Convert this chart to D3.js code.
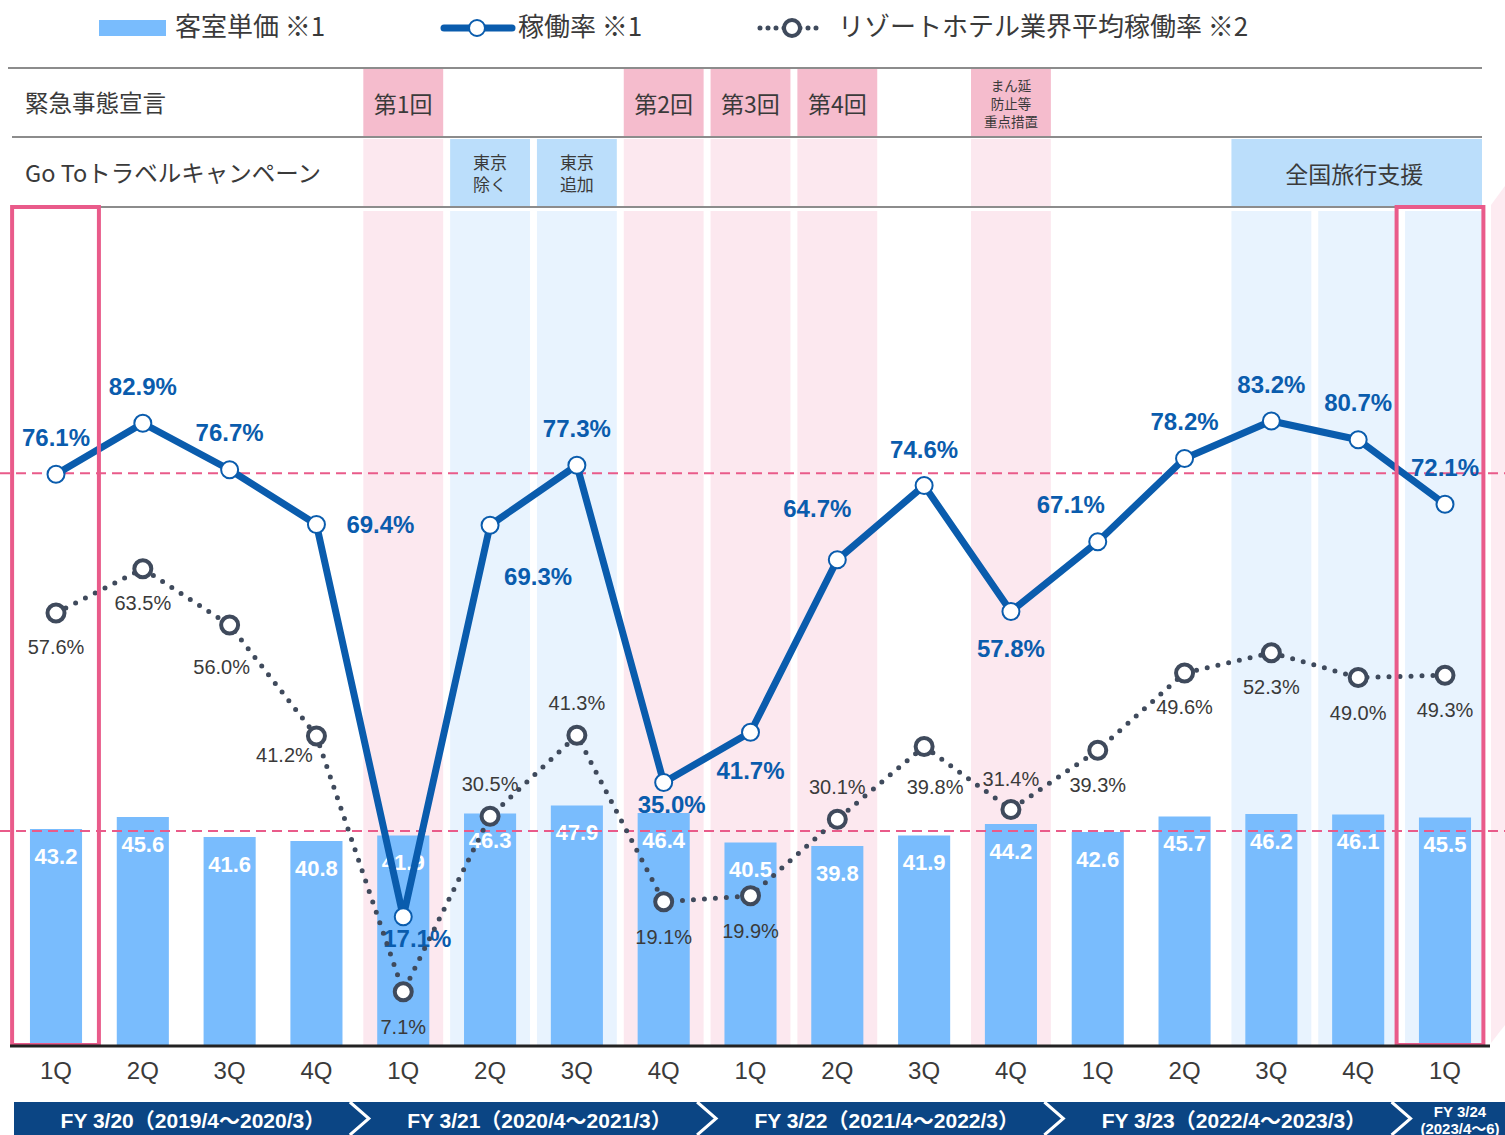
<!DOCTYPE html>
<html>
<head>
<meta charset="utf-8">
<script src="https://cdn.jsdelivr.net/npm/d3@7"></script>
<style>
    body { margin: 0; background: #ffffff; }
    svg { display: block; font-family: "Liberation Sans", Arial, "Noto Sans CJK JP", sans-serif; }
    .jp { font-family: "Noto Sans CJK JP", sans-serif; }
</style>
</head>
<body>
<svg id="sketchbook"></svg>
<script>
let quarters  = ['1Q','2Q','3Q','4Q','1Q','2Q','3Q','4Q','1Q','2Q','3Q','4Q','1Q','2Q','3Q','4Q','1Q'];
let unitPrice = [43.2, 45.6, 41.6, 40.8, 41.9, 46.3, 47.9, 46.4, 40.5, 39.8, 41.9, 44.2, 42.6, 45.7, 46.2, 46.1, 45.5];
let occupancy = [76.1, 82.9, 76.7, 69.4, 17.1, 69.3, 77.3, 35.0, 41.7, 64.7, 74.6, 57.8, 67.1, 78.2, 83.2, 80.7, 72.1];
let industry  = [57.6, 63.5, 56.0, 41.2, 7.1, 30.5, 41.3, 19.1, 19.9, 30.1, 39.8, 31.4, 39.3, 49.6, 52.3, 49.0, 49.3];

let fiscalYears = [
    { from: 0,  to: 4,  lines: ['FY 3/20（2019/4～2020/3）'] },
    { from: 4,  to: 8,  lines: ['FY 3/21（2020/4～2021/3）'] },
    { from: 8,  to: 12, lines: ['FY 3/22（2021/4～2022/3）'] },
    { from: 12, to: 16, lines: ['FY 3/23（2022/4～2023/3）'] },
    { from: 16, to: 17, lines: ['FY 3/24', '(2023/4～6)'] },
];

let emergency = [
    { from: 4,  to: 5,  lines: ['第1回'] },
    { from: 7,  to: 8,  lines: ['第2回'] },
    { from: 8,  to: 9,  lines: ['第3回'] },
    { from: 9,  to: 10, lines: ['第4回'] },
    { from: 11, to: 12, lines: ['まん延', '防止等', '重点措置'] },
];
let goTo = [
    { from: 5,  to: 6,  lines: ['東京', '除く'] },
    { from: 6,  to: 7,  lines: ['東京', '追加'] },
    { from: 14, to: 17, lines: ['全国旅行支援'] },
];
let pinkColumns = [4, 7, 8, 9, 11];
let blueColumns = [5, 6, 14, 15, 16];
let highlighted = [0, 16];

// label placement (dx, dy from the point)
let occLabelPos = [[0,-37],[0,-37],[0,-37],[64,0],[14,22],[48,51],[0,-37],[8,22],[0,38],[-20,-51],
                   [0,-36],[0,37],[-27,-37],[0,-37],[0,-37],[0,-37],[0,-37]];
let indLabelPos = [[0,34],[0,34],[-8,42],[-32,19],[0,35],[0,-32],[0,-32],[0,35],[0,35],[0,-32],
                   [11,40],[0,-31],[0,35],[0,34],[0,34],[0,35],[0,35]];

const W = 1505, H = 1135;
const C = {
    bar: '#79bcfd', line: '#0a5cad', dot: '#3f4a5c', pink: '#e95b8a',
    colPink: '#fce8ef', colBlue: '#e8f3fe', headPink: '#f5bccd', headBlue: '#bbdefb',
    text: '#3a3a3a', banner: '#0b4584', rule: '#8c8c8c'
};

function fmtPct (v) { return v.toFixed(1) + '%'; }

function drawChart () {
    let svg = d3.select('#sketchbook').attr('width', W).attr('height', H);

    let base = 1045, top = 208;
    let x = d3.scaleBand().domain(d3.range(quarters.length)).range([12.6, 1488.4]).paddingInner(0).paddingOuter(0);
    let step = x.step();
    let cx = (i) => { return x(i) + step / 2; };
    let yOcc   = d3.scaleLinear().domain([0, 100]).range([base, base - 750]);
    let yPrice = d3.scaleLinear().domain([0, 100]).range([base, base - 500]);

    let colW = step * 0.92, barW = step * 0.6;

    // column shading in the plot area
    let cols = pinkColumns.map((i) => { return { i: i, c: C.colPink }; })
        .concat(blueColumns.map((i) => { return { i: i, c: C.colBlue }; }));
    svg.append('g').selectAll('rect.col')
        .data(cols)
        .enter()
        .append('rect')
        .attr('class', 'col')
        .attr('x', (d) => { return cx(d.i) - colW / 2; })
        .attr('y', top + 3)
        .attr('width', colW)
        .attr('height', base - top - 3)
        .attr('fill', (d) => { return d.c; });

    // faint arrow edge at the right
    svg.append('polygon')
        .attr('points', '1491,205 1505,186 1505,1025 1491,1043')
        .attr('fill', '#fdebf1');

    // header table
    let head = svg.append('g');
    [[8, 68], [12, 137], [12, 207]].forEach((r) => {
        head.append('line').attr('x1', r[0]).attr('x2', 1482).attr('y1', r[1]).attr('y2', r[1])
            .attr('stroke', C.rule).attr('stroke-width', 2);
    });
    head.selectAll('rect.row2pink')
        .data(pinkColumns)
        .enter()
        .append('rect')
        .attr('x', (d) => { return cx(d) - colW / 2; })
        .attr('y', 139)
        .attr('width', colW)
        .attr('height', 67)
        .attr('fill', C.colPink);

    function cells (data, y0, h, fill) {
        let g = head.append('g');
        g.selectAll('rect')
            .data(data)
            .enter()
            .append('rect')
            .attr('x', (d) => { return x(d.from) + (step - colW) / 2; })
            .attr('y', y0)
            .attr('width', (d) => { return Math.min((d.to - d.from) * step - (step - colW), 1482 - x(d.from) - (step - colW) / 2); })
            .attr('height', h)
            .attr('fill', fill);
        g.selectAll('text')
            .data(data)
            .enter()
            .append('text')
            .attr('class', 'jp')
            .attr('text-anchor', 'middle')
            .attr('fill', C.text)
            .each(function (d) {
                let n = d.lines.length;
                let fs = n === 1 ? 23 : (n === 2 ? 17 : 13.5);
                let lh = n === 2 ? 22 : 18;
                let midX = x(d.from) + (d.to - d.from) * step / 2 - (d.to - d.from > 1 ? 4 : 0);
                let midY = y0 + h / 2;
                d3.select(this).attr('font-size', fs);
                d.lines.forEach((t, k) => {
                    d3.select(this).append('tspan')
                        .attr('x', midX)
                        .attr('y', midY + (k - (n - 1) / 2) * lh)
                        .attr('dominant-baseline', 'central')
                        .text(t);
                });
            });
    }
    cells(emergency, 69, 67, C.headPink);
    cells(goTo, 139, 67, C.headBlue);

    head.append('text').attr('class', 'jp').attr('x', 25).attr('y', 102)
        .attr('dominant-baseline', 'central').attr('font-size', 23.5).attr('fill', C.text)
        .text('緊急事態宣言');
    head.append('text').attr('class', 'jp').attr('x', 25).attr('y', 172)
        .attr('dominant-baseline', 'central').attr('font-size', 23.5).attr('fill', C.text)
        .text('Go Toトラベルキャンペーン');

    // bars
    svg.append('g').selectAll('rect.bar')
        .data(unitPrice)
        .enter()
        .append('rect')
        .attr('class', 'bar')
        .attr('x', (d, i) => { return cx(i) - barW / 2; })
        .attr('y', (d) => { return yPrice(d); })
        .attr('width', barW)
        .attr('height', (d) => { return base - yPrice(d); })
        .attr('fill', C.bar);

    svg.append('g').selectAll('text.barlab')
        .data(unitPrice)
        .enter()
        .append('text')
        .attr('x', (d, i) => { return cx(i); })
        .attr('y', (d) => { return yPrice(d) + 27; })
        .attr('text-anchor', 'middle')
        .attr('dominant-baseline', 'central')
        .attr('font-size', 22)
        .attr('font-weight', 'bold')
        .attr('fill', '#ffffff')
        .text((d) => { return d.toFixed(1); });

    // reference lines
    [yOcc(occupancy[0]) - 1, yPrice(unitPrice[0]) + 2].forEach((yy) => {
        svg.append('line').attr('x1', 0).attr('x2', W).attr('y1', yy).attr('y2', yy)
            .attr('stroke', C.pink).attr('stroke-width', 2).attr('stroke-dasharray', '10,6');
    });

    // line labels
    svg.append('g').selectAll('text.occlab')
        .data(occupancy)
        .enter()
        .append('text')
        .attr('x', (d, i) => { return cx(i) + occLabelPos[i][0]; })
        .attr('y', (d, i) => { return yOcc(d) + occLabelPos[i][1]; })
        .attr('text-anchor', 'middle')
        .attr('dominant-baseline', 'central')
        .attr('font-size', 24)
        .attr('font-weight', 'bold')
        .attr('fill', C.line)
        .text((d) => { return fmtPct(d); });

    svg.append('g').selectAll('text.indlab')
        .data(industry)
        .enter()
        .append('text')
        .attr('x', (d, i) => { return cx(i) + indLabelPos[i][0]; })
        .attr('y', (d, i) => { return yOcc(d) + indLabelPos[i][1]; })
        .attr('text-anchor', 'middle')
        .attr('dominant-baseline', 'central')
        .attr('font-size', 20)
        .attr('fill', C.text)
        .text((d) => { return fmtPct(d); });

    // occupancy line
    let lineOcc = d3.line().x((d, i) => { return cx(i); }).y((d) => { return yOcc(d); });
    svg.append('path')
        .attr('d', lineOcc(occupancy))
        .attr('fill', 'none')
        .attr('stroke', C.line)
        .attr('stroke-width', 7)
        .attr('stroke-linejoin', 'round');
    svg.append('g').selectAll('circle.occ')
        .data(occupancy)
        .enter()
        .append('circle')
        .attr('cx', (d, i) => { return cx(i); })
        .attr('cy', (d) => { return yOcc(d); })
        .attr('r', 8.5)
        .attr('fill', '#ffffff')
        .attr('stroke', C.line)
        .attr('stroke-width', 2);

    // industry dotted line
    svg.append('path')
        .attr('d', lineOcc(industry))
        .attr('fill', 'none')
        .attr('stroke', C.dot)
        .attr('stroke-width', 5)
        .attr('stroke-linecap', 'round')
        .attr('stroke-dasharray', '0,11');
    svg.append('g').selectAll('circle.ind')
        .data(industry)
        .enter()
        .append('circle')
        .attr('cx', (d, i) => { return cx(i); })
        .attr('cy', (d) => { return yOcc(d); })
        .attr('r', 8.5)
        .attr('fill', '#ffffff')
        .attr('stroke', C.dot)
        .attr('stroke-width', 4);

    // highlighted quarters
    svg.append('g').selectAll('rect.hl')
        .data(highlighted)
        .enter()
        .append('rect')
        .attr('x', (d) => { return x(d) + (d === 0 ? -0.5 : -5); })
        .attr('y', top - 1)
        .attr('width', step)
        .attr('height', base - top + 1)
        .attr('fill', 'none')
        .attr('stroke', C.pink)
        .attr('stroke-width', 4);

    // x axis
    svg.append('line').attr('x1', 10).attr('x2', 1490).attr('y1', base + 1).attr('y2', base + 1)
        .attr('stroke', '#222222').attr('stroke-width', 3);
    svg.append('g').selectAll('text.tick')
        .data(quarters)
        .enter()
        .append('text')
        .attr('x', (d, i) => { return cx(i); })
        .attr('y', 1070)
        .attr('text-anchor', 'middle')
        .attr('dominant-baseline', 'central')
        .attr('font-size', 24)
        .attr('fill', C.text)
        .text((d) => { return d; });

    // fiscal year banner
    let by0 = 1102, by1 = H;
    svg.append('rect').attr('x', 14).attr('y', by0).attr('width', W - 14).attr('height', by1 - by0)
        .attr('fill', C.banner);
    fiscalYears.slice(1).forEach((fy) => {
        let bx = x(fy.from);
        svg.append('polyline')
            .attr('points', [[bx - 10, by0], [bx + 9, (by0 + by1) / 2], [bx - 10, by1]].join(' '))
            .attr('fill', 'none')
            .attr('stroke', '#ffffff')
            .attr('stroke-width', 3);
    });
    svg.append('g').selectAll('text.fy')
        .data(fiscalYears)
        .enter()
        .append('text')
        .attr('text-anchor', 'middle')
        .attr('font-weight', 'bold')
        .attr('fill', '#ffffff')
        .each(function (d, k) {
            let n = d.lines.length;
            let left = k === 0 ? 14 : x(d.from);
            let midX = (left + x(d.from) + (d.to - d.from) * step) / 2 + 6;
            if (k === fiscalYears.length - 1) midX = 1460;
            d3.select(this).attr('font-size', n === 1 ? 21 : 15);
            d.lines.forEach((t, j) => {
                d3.select(this).append('tspan')
                    .attr('x', midX)
                    .attr('y', n === 1 ? 1120 : 1111 + j * 17)
                    .attr('dominant-baseline', 'central')
                    .text(t);
            });
        });

    // legend
    let lg = svg.append('g').attr('class', 'jp');
    lg.append('rect').attr('x', 99).attr('y', 20).attr('width', 67).attr('height', 16).attr('fill', C.bar);
    lg.append('text').attr('x', 175).attr('y', 24).attr('font-size', 26).attr('fill', C.text)
        .attr('dominant-baseline', 'central').text('客室単価 ※1');
    lg.append('line').attr('x1', 444).attr('x2', 512).attr('y1', 28).attr('y2', 28)
        .attr('stroke', C.line).attr('stroke-width', 7).attr('stroke-linecap', 'round');
    lg.append('circle').attr('cx', 477).attr('cy', 28).attr('r', 8)
        .attr('fill', '#ffffff').attr('stroke', C.line).attr('stroke-width', 2);
    lg.append('text').attr('x', 518).attr('y', 24).attr('font-size', 26).attr('fill', C.text)
        .attr('dominant-baseline', 'central').text('稼働率 ※1');
    lg.append('line').attr('x1', 760).attr('x2', 824).attr('y1', 28).attr('y2', 28)
        .attr('stroke', C.dot).attr('stroke-width', 5).attr('stroke-linecap', 'round')
        .attr('stroke-dasharray', '0,8');
    lg.append('circle').attr('cx', 792).attr('cy', 28).attr('r', 8)
        .attr('fill', '#ffffff').attr('stroke', C.dot).attr('stroke-width', 4);
    lg.append('text').attr('x', 838).attr('y', 24).attr('font-size', 26).attr('fill', C.text)
        .attr('dominant-baseline', 'central').text('リゾートホテル業界平均稼働率 ※2');
}

drawChart();
</script>
</body>
</html>
